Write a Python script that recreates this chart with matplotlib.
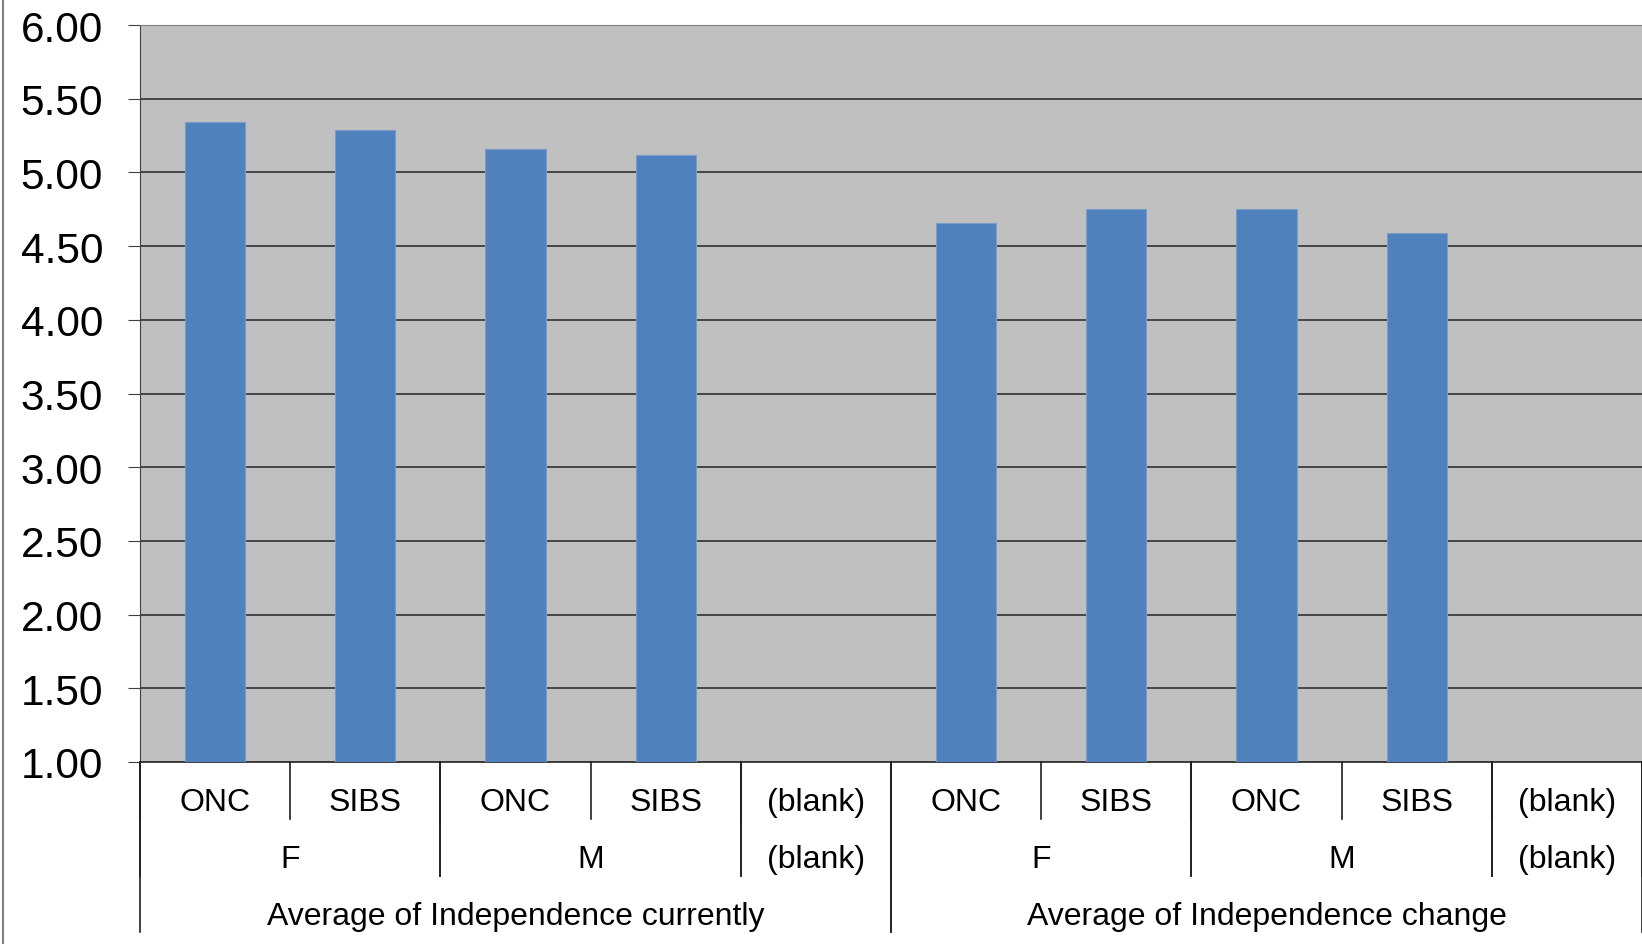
import numpy as np
import matplotlib.pyplot as plt

plt.rcParams['font.family'] = ['Liberation Sans', 'DejaVu Sans']

# categories, three levels
groups = ['Average of Independence currently', 'Average of Independence change']
kinds = ['ONC', 'SIBS', 'ONC', 'SIBS', '(blank)', 'ONC', 'SIBS', 'ONC', 'SIBS', '(blank)']
sex_labels = ['F', 'M', '(blank)', 'F', 'M', '(blank)']
sex_spans = [(0, 1), (2, 3), (4, 4), (5, 6), (7, 8), (9, 9)]
group_spans = [(0, 4), (5, 9)]

# bar values (nan for blank)
values = [5.34, 5.29, 5.16, 5.12, np.nan, 4.66, 4.75, 4.75, 4.59, np.nan]

fig = plt.figure(figsize=(16.42, 9.45), dpi=100)
ax = fig.add_axes([140/1642, 1-763/945, 1-140/1642, (763-26)/945])
ax.set_facecolor('#C0C0C0')

x = np.arange(len(kinds))
ax.bar(x, values, width=0.4, bottom=0, color='#4F81BD', edgecolor='#7B9CCB', linewidth=0.8, zorder=3)

ax.set_ylim(1, 6)
ax.set_xlim(-0.5, len(kinds) - 0.5)
yt = np.arange(1, 6.01, 0.5)
ax.set_yticks(yt)
ax.set_yticklabels(['%.2f' % v for v in yt])
ax.tick_params(axis='y', labelsize=30.5, length=8.6, pad=18, direction='out', color='#404040')
ax.set_xticks([])
for v in yt[1:]:
    ax.axhline(v, color='#303030' if v < 6 else '#808080', lw=1.2, zorder=1)

ax.spines['top'].set_color('#808080')
ax.spines['right'].set_visible(False)
ax.spines['left'].set_color('#404040')
ax.spines['bottom'].set_color('#202020')
ax.spines['bottom'].set_linewidth(1.2)

# multi level category axis
h = 737.0
y1 = -(820 - 763) / h
y2 = -(877 - 763) / h
y3 = -(933 - 763) / h
tr = ax.get_xaxis_transform()

for i, k in enumerate(kinds):
    ax.text(i, -(803 - 763) / h, k, transform=tr, ha='center', va='center', fontsize=23)
for lab, (a, b) in zip(sex_labels, sex_spans):
    ax.text((a + b) / 2, -(860 - 763) / h, lab, transform=tr, ha='center', va='center', fontsize=23)
for lab, (a, b) in zip(groups, group_spans):
    ax.text((a + b) / 2, -(917 - 763) / h, lab, transform=tr, ha='center', va='center', fontsize=23)

for i in range(len(kinds) + 1):
    ax.plot([i - 0.5, i - 0.5], [0, y1], transform=tr, color='#202020', lw=1.2, clip_on=False)
for a, b in sex_spans:
    for e in (a - 0.5, b + 0.5):
        ax.plot([e, e], [0, y2], transform=tr, color='#202020', lw=1.2, clip_on=False)
for a, b in group_spans:
    for e in (a - 0.5, b + 0.5):
        ax.plot([e, e], [0, y3], transform=tr, color='#202020', lw=1.2, clip_on=False)

# outer chart border on the left
fig.add_artist(plt.Line2D([3/1642, 3/1642], [0, 1], color='#808080', lw=1.5))

fig.savefig('out.png', dpi=100)
